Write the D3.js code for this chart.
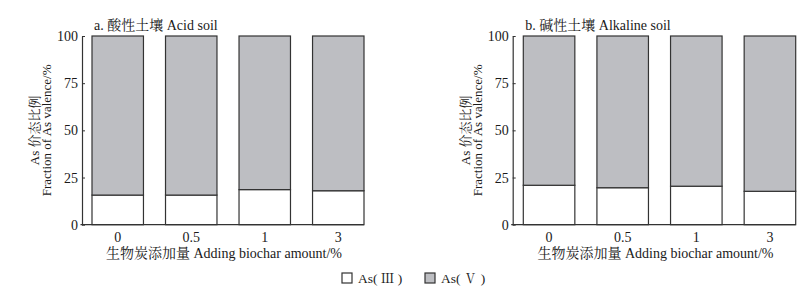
<!DOCTYPE html>
<html>
<head>
<meta charset="utf-8">
<script src="https://cdn.jsdelivr.net/npm/d3@7"></script>
<style>
  body { margin: 0; background: #fff; }
  svg text { font-family: "Liberation Serif", "Noto Serif CJK SC", "Noto Sans CJK SC", serif; fill: #1a1a1a; }
</style>
</head>
<body>
<script>
(function () {
  'use strict'

  var amounts = ['0', '0.5', '1', '3']
  var acidAs3 = [15.7, 15.7, 18.6, 18.0]
  var acidAs5 = [84.3, 84.3, 81.4, 82.0]
  var alkAs3 = [20.9, 19.6, 20.4, 17.7]
  var alkAs5 = [79.1, 80.4, 79.6, 82.3]
  var yTicks = [0, 25, 50, 75, 100]
  var seriesNames = ['As( Ⅲ )', 'As( Ⅴ )']
  var colors = ['#ffffff', '#bdbec2']

  var svg = d3.select('body').append('svg')
    .attr('width', 809)
    .attr('height', 288)

  // panel frames
  var panels = [
    { title: 'a. 酸性土壤 Acid soil', as3: acidAs3, as5: acidAs5, ax: 82, x0: 92, x1: 364 },
    { title: 'b. 碱性土壤 Alkaline soil', as3: alkAs3, as5: alkAs5, ax: 512.7, x0: 523.3, x1: 795.7 }
  ]
  var top = 36
  var bottom = 224.7

  panels.forEach(function (p) { plotPanel(p) })
  plotLegend()

  function plotPanel (p) {
    var g = svg.append('g')

    var x = d3.scaleBand().domain(amounts).range([p.x0, p.x1])
      .paddingInner(0.3).paddingOuter(0)
    var y = d3.scaleLinear().domain([0, 100]).range([bottom, top])

    var rows = amounts.map(function (a, i) {
      return { amount: a, as3: p.as3[i], as5: p.as5[i] }
    })
    var stack = d3.stack().keys(['as3', 'as5'])(rows)

    g.selectAll('.layer').data(stack)
      .enter().append('g')
        .attr('class', 'layer')
        .attr('fill', function (d, i) { return colors[i] })
      .selectAll('rect')
        .data(function (d) { return d })
      .enter().append('rect')
        .attr('x', function (d) { return x(d.data.amount) })
        .attr('width', x.bandwidth())
        .attr('y', function (d) { return y(d[1]) })
        .attr('height', function (d) { return y(d[0]) - y(d[1]) })
        .attr('stroke', '#333')
        .attr('stroke-width', 1.2)

    // y axis
    var yAxis = d3.axisLeft(y).tickValues(yTicks)
      .tickSizeInner(-3).tickSizeOuter(0).tickPadding(4)
    var ya = g.append('g')
      .attr('transform', 'translate(' + p.ax + ',0)')
      .call(yAxis)
    ya.select('.domain').attr('stroke', '#333').attr('stroke-width', 1.2)
    ya.selectAll('.tick line').attr('stroke', '#333')
    ya.selectAll('.tick text').attr('font-size', 14).attr('fill', '#1a1a1a')

    // x axis
    var xAxis = d3.axisBottom(x).tickSize(0).tickPadding(7)
    var xa = g.append('g')
      .attr('transform', 'translate(0,' + bottom + ')')
      .call(xAxis)
    xa.select('.domain').remove()
    xa.selectAll('.tick text').attr('font-size', 14).attr('fill', '#1a1a1a')
    g.append('line')
      .attr('x1', p.ax - 1.5).attr('x2', p.x1)
      .attr('y1', bottom).attr('y2', bottom)
      .attr('stroke', '#333').attr('stroke-width', 1.2)

    // titles
    g.append('text')
      .attr('x', p.x0 + 2).attr('y', 30)
      .attr('font-size', 14)
      .text(p.title)

    g.append('text')
      .attr('x', (p.x0 + p.x1) / 2 - 4).attr('y', 258)
      .attr('text-anchor', 'middle')
      .attr('font-size', 14)
      .text('生物炭添加量 Adding biochar amount/%')

    var yt = g.append('text')
      .attr('transform', 'translate(' + (p.ax - 43) + ',' + ((top + bottom) / 2) + ') rotate(-90)')
      .attr('text-anchor', 'middle')
      .attr('font-size', 13)
    yt.append('tspan').attr('x', 0).attr('dy', 0).text('As 价态比例')
    yt.append('tspan').attr('x', 0).attr('dy', 12).text('Fraction of As valence/%')
  }

  function plotLegend () {
    var lx = [342, 425]
    var leg = svg.append('g').selectAll('g').data(seriesNames)
      .enter().append('g')
        .attr('transform', function (d, i) { return 'translate(' + lx[i] + ',273)' })

    leg.append('rect')
      .attr('width', 10).attr('height', 10)
      .attr('fill', function (d, i) { return colors[i] })
      .attr('stroke', '#333')
      .attr('stroke-width', 1.2)

    leg.append('text')
      .attr('x', 16).attr('y', 9.5)
      .attr('font-size', 13.5)
      .text(function (d) { return d })
  }
}())
</script>
</body>
</html>
